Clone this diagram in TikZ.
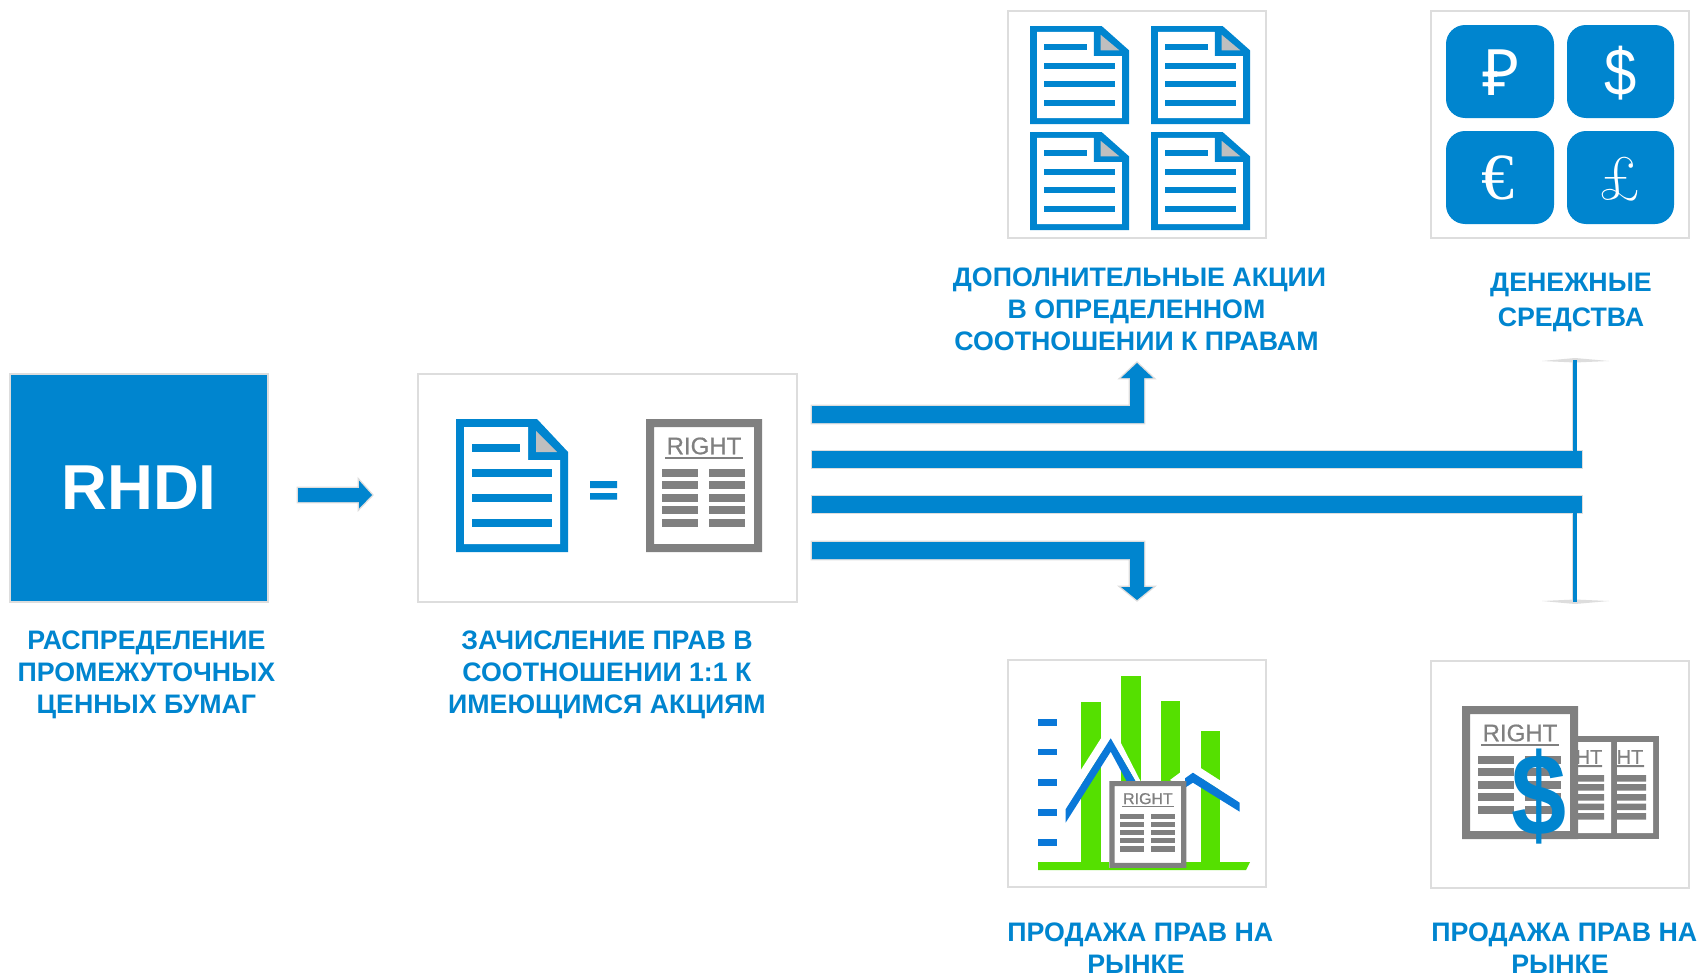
\documentclass[tikz,border=0pt]{standalone}
\usepackage{fontspec}
\newfontfamily\lab{Liberation Sans}
\newfontfamily\labr[FakeBold=0.7]{Liberation Sans}
\newfontfamily\lse{Liberation Serif}
\newfontfamily\nts{Noto Sans}
\definecolor{bl}{HTML}{0085CF}
\definecolor{bl2}{HTML}{0A78D8}
\definecolor{gr}{HTML}{808080}
\definecolor{fr}{HTML}{DDDDDD}
\definecolor{tri}{HTML}{BFBFBF}
\definecolor{gn}{HTML}{55E000}
\tikzset{
 framebox/.style={draw=fr,line width=2.6pt,fill=white,inner sep=0pt,outer sep=0pt},
 label text/.style={text=bl,align=center,inner sep=0pt,font=\lab\bfseries\fontsize{26.75}{32.2}\selectfont},
 blockarrow/.style={fill=bl,preaction={draw=fr,line width=2.8pt,line join=miter}},
 money/.style={fill=bl,rounded corners=19pt},
 sym/.style={text=white,inner sep=0pt},
}
\newcommand\blrows{%
 \fill[bl] (16,25) rectangle (64,33);
 \fill[bl] (16,50) rectangle (96,58);
 \fill[bl] (16,75) rectangle (96,83);
 \fill[bl] (16,100) rectangle (96,108);}
\newcommand\docblue[4]{\begin{scope}[shift={(#1,#2)},xscale=#3,yscale=#4]
 \fill[bl,even odd rule] (0,0)--(81,0)--(112,33)--(112,133)--(0,133)--cycle
   (8,8)--(72,8)--(72,41)--(104,41)--(104,125)--(8,125)--cycle;
 \fill[white] (8,8)--(72,8)--(72,41)--(104,41)--(104,125)--(8,125)--cycle;
 \fill[tri] (80,12)--(80,33)--(101,33)--cycle;
 \blrows
\end{scope}}
\newcommand\grrows[3]{% x0 x1 in local coordinates, y origin
 \foreach \yy in {50,62,75,87,100}{\fill[gr] (#1,#3+\yy) rectangle (#2,#3+\yy+8);}}
\newcommand\docgray[5]{\begin{scope}[shift={(#1,#2)},xscale=#3,yscale=#4,transform shape]
 \fill[white] (0,0) rectangle (116,133);
 \fill[gr,even odd rule] (0,0) rectangle (116,133) (8,8) rectangle (108,125);
 \node[inner sep=0pt,text=gr] (#5) at (58,27) {\labr\fontsize{24}{24}\selectfont RIGHT};
 \fill[gr] (19,38) rectangle (97,40);
 \grrows{16}{52}{0}
 \grrows{63}{99}{0}
\end{scope}}
\begin{document}
\begin{tikzpicture}[x=1pt,y=-1pt]
\useasboundingbox (0,0) rectangle (1700,977);
\fill[white] (0,0) rectangle (1700,977);

% RHDI
\node[framebox,fill=bl,minimum width=258pt,minimum height=228pt,text=white,font=\lab\bfseries\fontsize{63.5}{63.5}\selectfont] (rhdi) at (139,488) {RHDI};
\node[label text] (l1) at (146.4,674.7) {РАСПРЕДЕЛЕНИЕ\\ПРОМЕЖУТОЧНЫХ\\ЦЕННЫХ БУМАГ};

% first arrow
\path[blockarrow] (298,488)--(359,488)--(359,480.5)--(372,495)--(359,508.5)--(359,502)--(298,502)--cycle;

% box 2
\node[framebox,minimum width=379pt,minimum height=228pt] (b2) at (607.5,488) {};
\docblue{456}{419}{1}{1}
\fill[bl] (590,481) rectangle (617,488) (590,493) rectangle (617,499.5);
\docgray{646}{419}{1}{1}{r0}
\node[label text] (l2) at (607,674.7) {ЗАЧИСЛЕНИЕ ПРАВ В\\СООТНОШЕНИИ 1:1 К\\ИМЕЮЩИМСЯ АКЦИЯМ};

% box 3 additional shares
\node[framebox,minimum width=258pt,minimum height=227pt] (b3) at (1137,124.5) {};
\docblue{1030}{26}{.884}{.737}
\docblue{1151}{26}{.884}{.737}
\docblue{1030}{132}{.884}{.737}
\docblue{1151}{132}{.884}{.737}
\node[label text] (l3) at (1136.5,309.5) {\hspace*{6pt}ДОПОЛНИТЕЛЬНЫЕ АКЦИИ\\В ОПРЕДЕЛЕННОМ\\СООТНОШЕНИИ К ПРАВАМ};

% box 4 money
\node[framebox,minimum width=258pt,minimum height=227pt] (b4) at (1560,124.5) {};
\fill[money] (1446,25) rectangle (1554,118);
\fill[money] (1567,25) rectangle (1674,118);
\fill[money] (1446,131) rectangle (1554,224);
\fill[money] (1567,131) rectangle (1674,224);
\node[sym,font=\nts\fontsize{64}{64}\selectfont] (rub) at (1501,73) {₽};
\node[sym,font=\lab\fontsize{58}{58}\selectfont,yscale=1.15,transform shape] (usd) at (1620.5,73) {\$};
\node[sym,font=\lse\fontsize{66}{66}\selectfont] (eur) at (1498,178) {€};
\node[sym,font=\fontsize{62}{62}\selectfont\addfontfeature{FakeBold=0.8}] (gbp) at (1620,179) {£};
\node[label text] (l4) at (1571,302.5) {ДЕНЕЖНЫЕ\\[2.7pt]СРЕДСТВА};

% bars
\path[blockarrow] (812,406)--(1130,406)--(1130,378)--(1121,378)--(1137,363)--(1153,378)--(1144,378)--(1144,423)--(812,423)--cycle;
\path[blockarrow] (812,451) rectangle (1582,468);
\path[blockarrow] (812,496) rectangle (1582,513);
\path[blockarrow] (812,542)--(1144,542)--(1144,587)--(1153,587)--(1137,600)--(1121,587)--(1130,587)--(1130,559)--(812,559)--cycle;

% thin arrows
\fill[fr] (1542,361)--(1575,358)--(1609,361)--(1575,362.5)--cycle;
\fill[fr] (1542,601)--(1575,599.5)--(1609,601)--(1575,604)--cycle;
\draw[fr,line width=1pt] (1572.3,360)--(1572.3,451) (1572.3,513)--(1572.3,602);
\fill[bl] (1573,360) rectangle (1577,451.5);
\fill[bl] (1573,512) rectangle (1577,602);

% box 5 chart
\node[framebox,minimum width=258pt,minimum height=227pt] (b5) at (1137,773.5) {};
\fill[gn] (1038,862)--(1250,862)--(1246,870)--(1038,870)--cycle;
\fill[gn] (1081,702) rectangle (1101,863);
\fill[gn] (1121,676) rectangle (1141,863);
\fill[gn] (1161,701) rectangle (1180,863);
\fill[gn] (1201,731) rectangle (1220,863);
\foreach \yy in {719.3,748.7,779,809.3,839.3}{\fill[bl2] (1038,\yy) rectangle (1057,\yy+6.5);}
\fill[white] (1065.6,794)--(1110.7,723)--(1145,790)--(1136,782)--(1110.7,738.3)--(1065.6,809.3)--cycle;
\fill[white] (1170,780)--(1192.9,763)--(1239.7,793)--(1239.7,802.7)--(1192.9,772.7)--(1180,785)--cycle;
\fill[bl2] (1065.6,809.3)--(1110.7,738.3)--(1136,782)--(1127,782)--(1110.7,751.7)--(1065.6,822.7)--cycle;
\fill[bl2] (1185,778.3)--(1192.9,772.7)--(1239.7,802.7)--(1239.7,811.7)--(1192.9,782.7)--(1185,787.7)--cycle;
\docgray{1109.4}{781}{.664}{.654}{r1}
\node[label text] (l5) at (1136,948.5) {\hspace*{8.6pt}ПРОДАЖА ПРАВ НА\\РЫНКЕ};

% box 6 sale
\node[framebox,minimum width=258pt,minimum height=227pt] (b6) at (1560,774.5) {};
\fill[gr] (1578,736) rectangle (1659,839);
\fill[white] (1578,742) rectangle (1611,833) (1617,742) rectangle (1653,833);
\node[inner sep=0pt,text=gr,anchor=east,font=\labr\fontsize{20}{20}\selectfont] (ht1) at (1602.5,757) {HT};
\node[inner sep=0pt,text=gr,anchor=east,font=\labr\fontsize{20}{20}\selectfont] (ht2) at (1643.5,757) {HT};
\fill[gr] (1578,765) rectangle (1602,767) (1617,765) rectangle (1644,767);
\foreach \yy in {775,784,794,803.5,813}{\fill[gr] (1578,\yy) rectangle (1604,\yy+6.5) (1617,\yy) rectangle (1646,\yy+6.5);}
\docgray{1462}{706}{1}{1}{r2}
\node[inner sep=0pt,text=bl,font=\lab\bfseries\fontsize{110}{110}\selectfont,xscale=.9,yscale=1.06,transform shape] (dol) at (1539,796.5) {\$};
\node[label text] (l6) at (1560,948.5) {\hspace*{8.6pt}ПРОДАЖА ПРАВ НА\\РЫНКЕ};
\end{tikzpicture}
\end{document}
